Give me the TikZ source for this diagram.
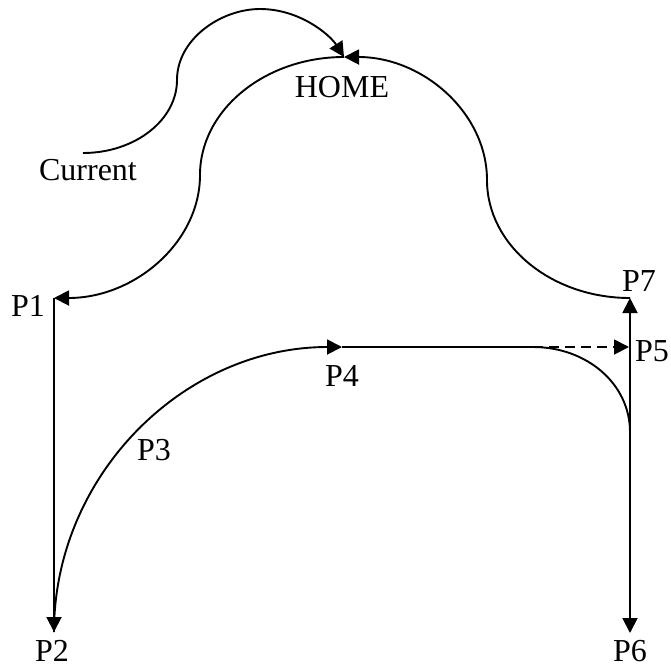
\documentclass[tikz,border=0pt]{standalone}
\usepackage{fontspec}
\setmainfont{Liberation Serif}
\usetikzlibrary{arrows.meta}

\begin{document}
\begin{tikzpicture}[
  x=0.5pt,y=-0.5pt,
  >={Triangle[length=7.5pt,width=7.5pt]},
  route/.style={line width=0.95pt},
  lbl/.style={inner sep=0pt,font=\fontsize{16}{18}\selectfont}
]
  \useasboundingbox (0,0) rectangle (671,666);

  % way points (pixel grid, y pointing down)
  \coordinate (cur) at (83,153);
  \coordinate (home) at (344,57);
  \coordinate (p1) at (54,298);
  \coordinate (p2) at (54,632);
  \coordinate (p4) at (342,347);
  \coordinate (p5) at (629,347);
  \coordinate (p6) at (630,633);
  \coordinate (p7) at (630,298);
  \coordinate (bend) at (533,347);
  \coordinate (join) at (630,432);

  \node[lbl] (curtext) at (88,170) {Current};
  \node[lbl] (hometext) at (342,87) {HOME};
  \node[lbl] (p1text) at (28,306) {P1};
  \node[lbl] (p2text) at (52,651) {P2};
  \node[lbl] (p3text) at (154,450) {P3};
  \node[lbl] (p4text) at (342,376) {P4};
  \node[lbl] (p5text) at (652,351) {P5};
  \node[lbl] (p6text) at (630,651) {P6};
  \node[lbl] (p7text) at (639,281) {P7};

  % from the current position back home
  \draw[route,->] (cur) .. controls (135,153) and (177,120) .. (177,80)
    .. controls (177,39) and (221,9) .. (260,9)
    .. controls (300,9) and (330,35) .. (home);

  % the loop round the points
  \draw[route,->] (home) .. controls (265,57) and (200,110) .. (200,175)
    .. controls (200,242) and (135,298) .. (p1);
  \draw[route,->] (p1) -- (p2);
  \draw[route,->] (p2) .. controls (54,476) and (183,347) .. (p4);
  \draw[route] (p4) -- (bend);
  \draw[route,->,dash pattern=on 5pt off 3pt] (bend) -- (p5);
  \draw[route] (bend) .. controls (587,347) and (630,384) .. (join);
  \draw[route,->] (join) -- (p7);
  \draw[route,->] (join) -- (p6);
  \draw[route,->] (p7) .. controls (551,298) and (487,245) .. (487,180)
    .. controls (487,113) and (423,57) .. (home);
\end{tikzpicture}
\end{document}
